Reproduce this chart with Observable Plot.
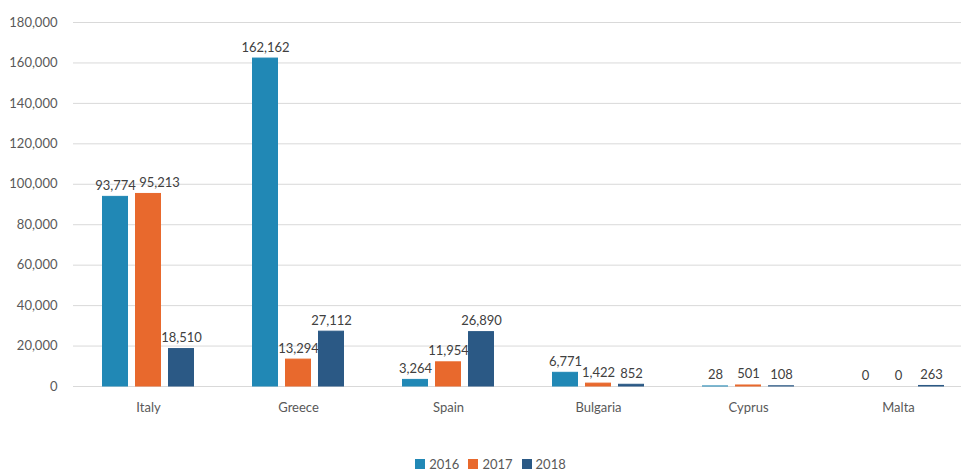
<!DOCTYPE html>
<html>
<head>
<meta charset="utf-8">
<script src="https://cdn.jsdelivr.net/npm/d3@7"></script>
<script src="https://cdn.jsdelivr.net/npm/@observablehq/plot@0.6"></script>
<style>
  html, body { margin: 0; padding: 0; background: #fff; overflow: hidden; }
  #chart { width: 961px; }
  .legend { display: flex; justify-content: center; gap: 9px; margin-top: 26px; padding-left: 20px;
            font-family: Lato, "Open Sans", sans-serif; font-size: 13px; color: #595959; }
  .legend span.item { display: inline-flex; align-items: center; gap: 4px; }
  .legend span.sw { width: 10px; height: 10px; display: inline-block; }
</style>
</head>
<body>
<div id="chart"></div>
<script>
const countries = ["Italy", "Greece", "Spain", "Bulgaria", "Cyprus", "Malta"];
const years = ["2016", "2017", "2018"];
const v2016 = [93774, 162162, 3264, 6771, 28, 0];
const v2017 = [95213, 13294, 11954, 1422, 501, 0];
const v2018 = [18510, 27112, 26890, 852, 108, 263];
const yTicks = [0, 20000, 40000, 60000, 80000, 100000, 120000, 140000, 160000, 180000];
const colors = ["#2188b5", "#e8692d", "#2b5985"];

const series = [v2016, v2017, v2018];
const data = [];
countries.forEach((c, i) => {
  years.forEach((y, j) => data.push({country: c, year: y, value: series[j][i]}));
});
// label nudged right in the original to avoid colliding with its neighbour
const isNudged = d => d.country === "Italy" && d.year === "2017";

const font = "Lato, 'Open Sans', sans-serif";
const fmt = d3.format(",");
const labelOpts = {
  fx: "country", x: "year", y: "value", text: d => fmt(d.value),
  lineAnchor: "bottom", dy: -7, fill: "#404040", fontSize: 13
};
const chart = Plot.plot({
  width: 961,
  height: 430,
  marginTop: 22,
  marginBottom: 44,
  marginLeft: 71,
  marginRight: -13,
  style: {fontFamily: font, fontSize: "13px", color: "#595959", background: "#fff"},
  fx: {domain: countries, padding: 0, label: null, tickSize: 0, tickPadding: 16, axis: "bottom"},
  x: {domain: years, paddingInner: 0.2, paddingOuter: 0.85, axis: null},
  y: {domain: [0, 180000], ticks: yTicks, tickFormat: fmt, label: null, tickSize: 0, tickPadding: 16, grid: false},
  color: {domain: years, range: colors},
  marks: [
    Plot.ruleY(yTicks, {stroke: "#d9d9d9", strokeWidth: 1}),
    Plot.barY(data.filter(d => d.value > 0), {
      fx: "country", x: "year", y: "value", fill: "year", stroke: "year",
      strokeWidth: 1, insetLeft: 0.5, insetRight: 0.5
    }),
    Plot.text(data.filter(d => !isNudged(d)), labelOpts),
    Plot.text(data.filter(isNudged), {...labelOpts, dx: 11})
  ]
});
document.getElementById("chart").appendChild(chart);

const legend = document.createElement("div");
legend.className = "legend";
years.forEach((y, j) => {
  const it = document.createElement("span");
  it.className = "item";
  it.innerHTML = `<span class="sw" style="background:${colors[j]}"></span>${y}`;
  legend.appendChild(it);
});
document.getElementById("chart").appendChild(legend);
</script>
</body>
</html>
